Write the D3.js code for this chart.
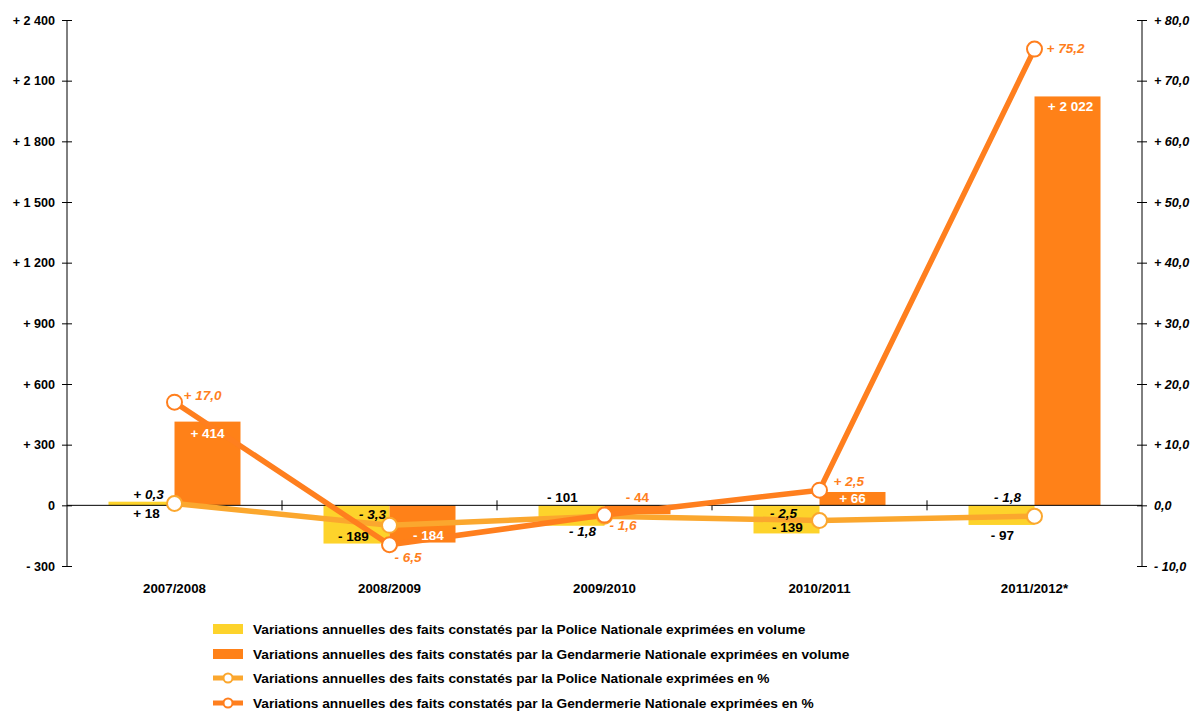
<!DOCTYPE html>
<html>
<head>
<meta charset="utf-8">
<script src="https://cdn.jsdelivr.net/npm/d3@7"></script>
<style>
  html, body { margin: 0; padding: 0; background: #fff; }
  svg text { font-family: "Liberation Sans", Arial, sans-serif; }
</style>
</head>
<body>
<svg id="chart" width="1195" height="713"></svg>
<script>
// Annual variations of recorded offences
const periods = ["2007/2008", "2008/2009", "2009/2010", "2010/2011", "2011/2012*"];
const policeVolume = [18, -189, -101, -139, -97];
const gendarmerieVolume = [414, -184, -44, 66, 2022];
const policePct = [0.3, -3.3, -1.8, -2.5, -1.8];
const gendarmeriePct = [17.0, -6.5, -1.6, 2.5, 75.2];
const leftTicks = [-300, 0, 300, 600, 900, 1200, 1500, 1800, 2100, 2400];
const rightTicks = [-10, 0, 10, 20, 30, 40, 50, 60, 70, 80];
const legendLabels = [
  "Variations annuelles des faits constatés par la Police Nationale exprimées en volume",
  "Variations annuelles des faits constatés par la Gendarmerie Nationale exprimées en volume",
  "Variations annuelles des faits constatés par la Police Nationale exprimées en %",
  "Variations annuelles des faits constatés par la Gendermerie Nationale exprimées en %"
];

const C = {
  policeBar: "#FDD32B",
  gendBar: "#FF8118",
  policeLine: "#FBA72E",
  gendLine: "#FF7F1E",
  gendText: "#FF7F1E"
};

const svg = d3.select("#chart");
const plotLeft = 67, plotRight = 1142, plotTop = 20, plotBottom = 566;

const x = d3.scaleBand().domain(periods).range([plotLeft, plotRight]);
const yL = d3.scaleLinear().domain([-300, 2400]).range([plotBottom, plotTop]);
const yR = d3.scaleLinear().domain([-10, 80]).range([plotBottom, plotTop]);
const barW = 66;

// French number formatting: "+ 2 022", "- 6,5"
function fmt(v, decimals) {
  const a = Math.abs(v);
  let s = a.toFixed(decimals).replace(".", ",");
  const parts = s.split(",");
  parts[0] = parts[0].replace(/\B(?=(\d{3})+(?!\d))/g, " ");
  s = parts.join(",");
  if (v > 0) return "+ " + s;
  if (v < 0) return "- " + s;
  return s;
}

// Bars
const cx = p => x(p) + x.bandwidth() / 2;
const y0 = yL(0);

svg.append("g").selectAll("rect").data(periods).join("rect")
  .attr("x", p => cx(p) - barW)
  .attr("width", barW)
  .attr("y", (p, i) => Math.min(yL(policeVolume[i]), y0))
  .attr("height", (p, i) => Math.abs(yL(policeVolume[i]) - y0))
  .attr("fill", C.policeBar);

svg.append("g").selectAll("rect").data(periods).join("rect")
  .attr("x", p => cx(p))
  .attr("width", barW)
  .attr("y", (p, i) => Math.min(yL(gendarmerieVolume[i]), y0))
  .attr("height", (p, i) => Math.abs(yL(gendarmerieVolume[i]) - y0))
  .attr("fill", C.gendBar);

// Left axis
const axL = svg.append("g").attr("transform", `translate(${plotLeft},0)`)
  .call(d3.axisLeft(yL).tickValues(leftTicks).tickSize(5).tickPadding(7)
    .tickFormat(v => v === 0 ? "0" : fmt(v, 0)));
axL.select(".domain").attr("stroke", "#000").attr("d", `M0,${plotTop}V${plotBottom}`);
axL.selectAll(".tick line").attr("x1", 5).attr("x2", -5).attr("stroke", "#000");
axL.selectAll("text").attr("font-size", 12.6).attr("font-weight", "bold").attr("fill", "#000");

// Right axis
const axR = svg.append("g").attr("transform", `translate(${plotRight},0)`)
  .call(d3.axisRight(yR).tickValues(rightTicks).tickSize(5).tickPadding(7)
    .tickFormat(v => fmt(v, 1)));
axR.select(".domain").attr("stroke", "#000").attr("d", `M0,${plotTop}V${plotBottom}`);
axR.selectAll(".tick line").attr("x1", -5).attr("x2", 5).attr("stroke", "#000");
axR.selectAll("text").attr("font-size", 12.6).attr("font-weight", "bold")
  .attr("font-style", "italic").attr("fill", "#000");

// Zero baseline with category separators
const axX = svg.append("g").attr("transform", `translate(0,${y0})`)
  .call(d3.axisBottom(x).tickSize(0).tickFormat(""));
axX.select(".domain").attr("stroke", "#000").attr("d", `M${plotLeft},0H${plotRight}`);
svg.append("g").selectAll("line").data(periods.slice(1)).join("line")
  .attr("x1", p => x(p)).attr("x2", p => x(p))
  .attr("y1", y0 - 5).attr("y2", y0 + 5)
  .attr("stroke", "#000");

// Category labels
svg.append("g").selectAll("text").data(periods).join("text")
  .attr("x", cx).attr("y", 593)
  .attr("text-anchor", "middle")
  .attr("font-size", 13.3).attr("font-weight", "bold")
  .text(p => p);

// Percentage lines
const lineGen = arr => d3.line().x((d, i) => cx(periods[i])).y(d => yR(d))(arr);
svg.append("path").attr("d", lineGen(policePct))
  .attr("fill", "none").attr("stroke", C.policeLine).attr("stroke-width", 5.5)
  .attr("stroke-linejoin", "round");
svg.append("path").attr("d", lineGen(gendarmeriePct))
  .attr("fill", "none").attr("stroke", C.gendLine).attr("stroke-width", 5.5)
  .attr("stroke-linejoin", "round");

svg.append("g").selectAll("circle").data(policePct).join("circle")
  .attr("cx", (d, i) => cx(periods[i])).attr("cy", d => yR(d)).attr("r", 7.5)
  .attr("fill", "#fff").attr("stroke", C.policeLine).attr("stroke-width", 2);
svg.append("g").selectAll("circle").data(gendarmeriePct).join("circle")
  .attr("cx", (d, i) => cx(periods[i])).attr("cy", d => yR(d)).attr("r", 7.5)
  .attr("fill", "#fff").attr("stroke", C.gendLine).attr("stroke-width", 2);

// Value labels: placement offsets relative to each mark
const lab = svg.append("g").attr("font-size", 13.5).attr("font-weight", "bold");

// Police volume: [dx from bar centre, reference ('zero' or 'end'), dy]
const pvPlace = [[5, "zero", 13], [-3, "end", -3], [-9, "zero", -3], [1, "end", -1], [1, "end", 15]];
policeVolume.forEach((v, i) => {
  const [dx, ref, dy] = pvPlace[i];
  const bx = cx(periods[i]) - barW / 2;
  const by = ref === "zero" ? y0 : yL(v);
  lab.append("text").attr("x", bx + dx).attr("y", by + dy)
    .attr("text-anchor", "middle").attr("fill", "#000").text(fmt(v, 0));
});

// Gendarmerie volume
const gvPlace = [[0, "end", 16, "#fff"], [6, "end", -3, "#fff"], [0, "zero", -3, C.gendText], [0, "end", 11, "#fff"], [3, "end", 15, "#fff"]];
gendarmerieVolume.forEach((v, i) => {
  const [dx, ref, dy, col] = gvPlace[i];
  const bx = cx(periods[i]) + barW / 2;
  const by = ref === "zero" ? y0 : yL(v);
  lab.append("text").attr("x", bx + dx).attr("y", by + dy)
    .attr("text-anchor", "middle").attr("fill", col).text(fmt(v, 0));
});

// Police %
const ppPlace = [[-26, -5], [-17, -6], [-22, 20], [-36, -3], [-27, -14]];
policePct.forEach((v, i) => {
  const [dx, dy] = ppPlace[i];
  lab.append("text").attr("x", cx(periods[i]) + dx).attr("y", yR(v) + dy)
    .attr("text-anchor", "middle").attr("font-style", "italic").attr("fill", "#000")
    .text(fmt(v, 1));
});

// Gendarmerie %
const gpPlace = [[9, -2], [5, 17], [5, 15], [14, -4], [12, 4]];
gendarmeriePct.forEach((v, i) => {
  const [dx, dy] = gpPlace[i];
  lab.append("text").attr("x", cx(periods[i]) + dx).attr("y", yR(v) + dy)
    .attr("text-anchor", "start").attr("font-style", "italic").attr("fill", C.gendText)
    .text(fmt(v, 1));
});

// Legend
const lg = svg.append("g").attr("transform", "translate(213,0)");
const legendY = [629, 654, 678, 703];
legendLabels.forEach((t, i) => {
  const g = lg.append("g").attr("transform", `translate(0,${legendY[i]})`);
  if (i < 2) {
    g.append("rect").attr("x", 0).attr("y", -5).attr("width", 30).attr("height", 10)
      .attr("fill", i === 0 ? C.policeBar : C.gendBar);
  } else {
    const col = i === 2 ? C.policeLine : C.gendLine;
    g.append("line").attr("x1", 0).attr("x2", 30).attr("y1", 0).attr("y2", 0)
      .attr("stroke", col).attr("stroke-width", 5);
    g.append("circle").attr("cx", 15).attr("cy", 0).attr("r", 4.5)
      .attr("fill", "#fff").attr("stroke", col).attr("stroke-width", 2);
  }
  g.append("text").attr("x", 40).attr("y", 5)
    .attr("font-size", 13.7).attr("font-weight", "bold").text(t);
});
</script>
</body>
</html>
